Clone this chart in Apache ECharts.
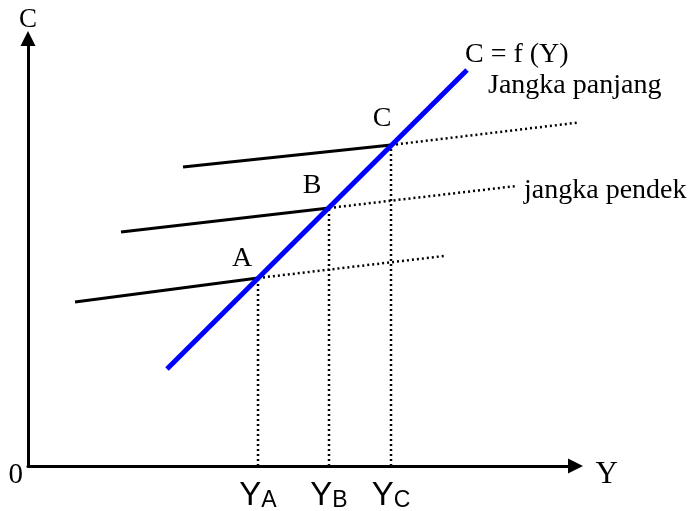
<!DOCTYPE html>
<html>
<head>
<meta charset="utf-8">
<script src="https://cdn.jsdelivr.net/npm/echarts@6/dist/echarts.min.js"></script>
<style>
    html, body { margin: 0; padding: 0; background: #fff; }
    #chart { width: 692px; height: 511px; }
</style>
</head>
<body>
<div id="chart"></div>
<script>
// equilibrium points A, B, C on the long-run consumption function
const pointNames = ["A", "B", "C"];
const incomeLevels = [46, 60.2, 72.6];
const consumptionLevels = [37.6, 51.6, 64.2];

// long-run line C = f(Y)
const longRunLine = [[27.8, 19.4], [87.8, 79.2]];

// short-run lines: solid part starts here, dotted part ends here
const shortRunStart = [[9.4, 32.8], [18.6, 46.8], [31, 59.8]];
const shortRunEnd = [[83.2, 42], [97.6, 56], [111, 68.8]];

const serif = "'Liberation Serif', 'Times New Roman', serif";
const narrow = "'Liberation Sans Narrow', 'Arial Narrow', 'Liberation Sans', sans-serif";
const labelOffsets = [[-16, -19], [-17, -22], [-9, -26]];
const dotted = {color: "#000", width: 2.5, type: [2, 3]};

const chart = echarts.init(document.getElementById("chart"));

const series = [];
pointNames.forEach((name, i) => {
    const pt = [incomeLevels[i], consumptionLevels[i]];
    // solid short-run segment
    series.push({
        type: "line",
        data: [shortRunStart[i], pt],
        symbol: "none",
        lineStyle: {color: "#000", width: 3},
        z: 3,
    });
    // dotted extension
    series.push({
        type: "line",
        data: [pt, shortRunEnd[i]],
        symbol: "none",
        lineStyle: dotted,
        z: 2,
        endLabel: i === 1 ? {
            show: true,
            formatter: "jangka pendek",
            distance: 8,
            offset: [0, 5],
            fontFamily: serif,
            fontSize: 28,
            color: "#000",
        } : {show: false},
    });
    // dotted drop line to the income axis
    series.push({
        type: "line",
        data: [[incomeLevels[i], 0], pt],
        symbol: "none",
        lineStyle: dotted,
        z: 2,
    });
});

series.push({
    type: "line",
    data: longRunLine,
    symbol: "none",
    lineStyle: {color: "#0000ff", width: 5},
    z: 5,
    endLabel: {
        show: true,
        distance: 0,
        offset: [-2, 0],
        formatter: "{a|C = f (Y)}\n{b|Jangka panjang}",
        rich: {
            a: {fontFamily: serif, fontSize: 28, lineHeight: 31, color: "#000"},
            b: {fontFamily: serif, fontSize: 28, lineHeight: 31, color: "#000", padding: [0, 0, 0, 23]},
        },
    },
});

series.push({
    type: "scatter",
    symbolSize: 0,
    z: 6,
    itemStyle: {color: "#000", opacity: 1},
    data: pointNames.map((name, i) => ({
        value: [incomeLevels[i], consumptionLevels[i]],
        label: {offset: labelOffsets[i]},
    })),
    label: {
        show: true,
        position: [0, 0],
        align: "center",
        verticalAlign: "middle",
        formatter: (p) => pointNames[p.dataIndex],
        fontFamily: serif,
        fontSize: 28,
        color: "#000",
    },
});

const option = {
    animation: false,
    grid: {left: 28, right: 116.5, top: 38.5, bottom: 45, outerBoundsMode: "none"},
    xAxis: {
        type: "value",
        min: 0,
        max: 109.5,
        name: "Y",
        nameLocation: "end",
        nameGap: 20,
        nameTextStyle: {fontFamily: serif, fontSize: 31, color: "#000", verticalAlign: "top", lineHeight: 18},
        axisLine: {
            lineStyle: {color: "#000", width: 3},
            symbol: ["none", "triangle"],
            symbolSize: [15, 15],
        },
        axisTick: {show: false},
        splitLine: {show: false},
        axisLabel: {
            customValues: incomeLevels,
            margin: 13,
            formatter: (v) => {
                const i = incomeLevels.indexOf(v);
                return "{y|Y}{s|" + pointNames[i] + "}";
            },
            rich: {
                y: {fontFamily: narrow, fontSize: 33, lineHeight: 33, verticalAlign: "bottom", color: "#000"},
                s: {fontFamily: narrow, fontSize: 23, lineHeight: 23, verticalAlign: "bottom", color: "#000"},
            },
        },
    },
    yAxis: {
        type: "value",
        min: 0,
        max: 85.5,
        name: "C",
        nameLocation: "end",
        nameGap: 5,
        nameTextStyle: {fontFamily: serif, fontSize: 27, color: "#000"},
        axisLine: {
            show: true,
            lineStyle: {color: "#000", width: 3},
            symbol: ["none", "triangle"],
            symbolSize: [15, 15],
        },
        axisTick: {show: false},
        splitLine: {show: false},
        axisLabel: {
            customValues: [0],
            margin: 5,
            formatter: "0",
            fontFamily: serif,
            fontSize: 29,
            color: "#000",
            verticalAlign: "top",
            lineHeight: 18,
        },
    },
    series: series,
};

chart.setOption(option);
</script>
</body>
</html>
